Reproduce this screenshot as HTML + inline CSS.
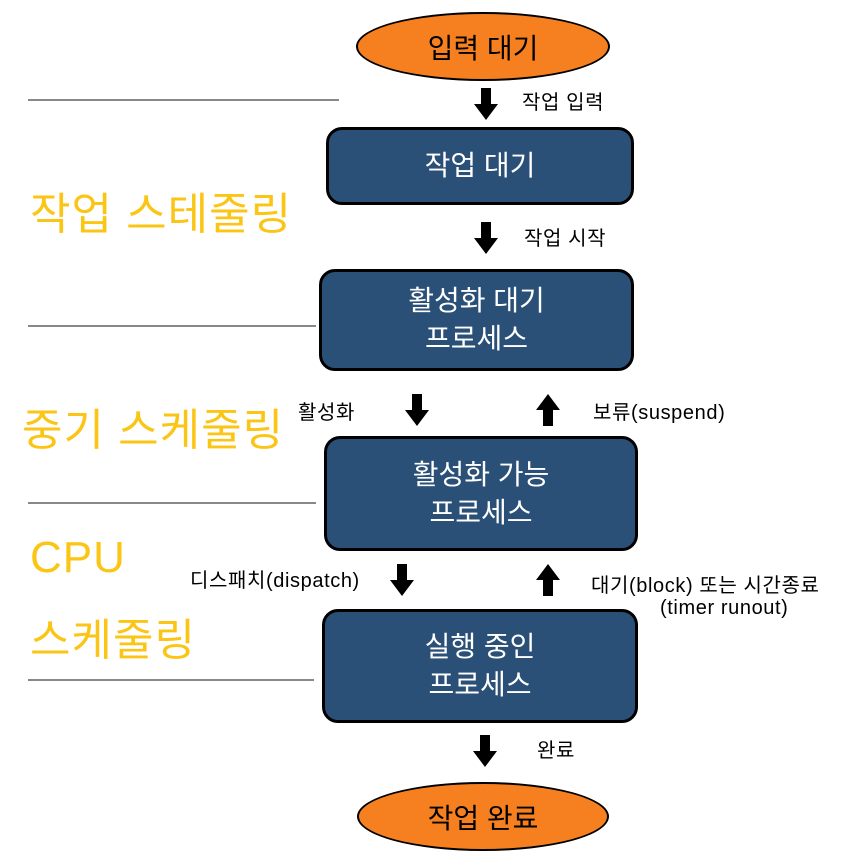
<!DOCTYPE html><html><head><meta charset="utf-8"><style>
body{margin:0;width:860px;height:865px;background:#fff;position:relative;overflow:hidden;font-family:"Liberation Sans","Noto Sans CJK KR",sans-serif}
.a{position:absolute}
.line{position:absolute;height:2px;background:#888}
.box{position:absolute;background:#2b5077;border:3px solid #000;border-radius:16px;color:#fff;font-size:28px;display:flex;align-items:center;justify-content:center;text-align:center;line-height:38px;box-sizing:border-box}
.ell{position:absolute;background:#f6801f;border:2px solid #000;border-radius:50%;display:flex;align-items:center;justify-content:center;font-size:28px;color:#000;box-sizing:border-box}
.lbl{position:absolute;font-size:20px;letter-spacing:0.6px;color:#000;white-space:nowrap}
.y{position:absolute;color:#fbc515;font-size:44px;letter-spacing:1px;white-space:nowrap}
</style></head><body>
<div class="ell" style="left:356px;top:12px;width:254px;height:69px">입력 대기</div>
<div class="ell" style="left:357px;top:782px;width:252px;height:69px">작업 완료</div>
<div class="line" style="left:28px;top:99px;width:311px"></div>
<div class="line" style="left:28px;top:325px;width:288px"></div>
<div class="line" style="left:28px;top:502px;width:288px"></div>
<div class="line" style="left:28px;top:679px;width:286px"></div>
<div class="box" style="left:326px;top:127px;width:308px;height:78px">작업 대기</div>
<div class="box" style="left:319px;top:269px;width:315px;height:102px">활성화 대기<br>프로세스</div>
<div class="box" style="left:324px;top:436px;width:314px;height:115px">활성화 가능<br>프로세스</div>
<div class="box" style="left:322px;top:609px;width:316px;height:114px">실행 중인<br>프로세스</div>
<svg class="a" style="left:0;top:0" width="860" height="865">
<g fill="#000">
<path d="M481 88h10v16h7l-12 16l-12-16h7z"/>
<path d="M481 222h10v16h7l-12 16l-12-16h7z"/>
<path d="M412 394h10v16h7l-12 16l-12-16h7z"/>
<path d="M397 564h10v16h7l-12 16l-12-16h7z"/>
<path d="M480 735h10v16h7l-12 16l-12-16h7z"/>
<path d="M543 426h10v-16h7l-12-16l-12 16h7z"/>
<path d="M543 596h10v-16h7l-12-16l-12 16h7z"/>
</g></svg>
<div class="lbl" style="left:522px;top:86px">작업 입력</div>
<div class="lbl" style="left:524px;top:222px">작업 시작</div>
<div class="lbl" style="left:298px;top:396px">활성화</div>
<div class="lbl" style="left:593px;top:396px">보류(suspend)</div>
<div class="lbl" style="left:190px;top:564px">디스패치(dispatch)</div>
<div class="lbl" style="left:591px;top:569px">대기(block) 또는 시간종료</div>
<div class="lbl" style="left:660px;top:597px">(timer runout)</div>
<div class="lbl" style="left:537px;top:734px">완료</div>
<div class="y" style="left:30px;top:178px">작업 스테줄링</div>
<div class="y" style="left:22px;top:394px">중기 스케줄링</div>
<div class="y" style="left:30px;top:533px">CPU</div>
<div class="y" style="left:30px;top:604px">스케줄링</div>
</body></html>
